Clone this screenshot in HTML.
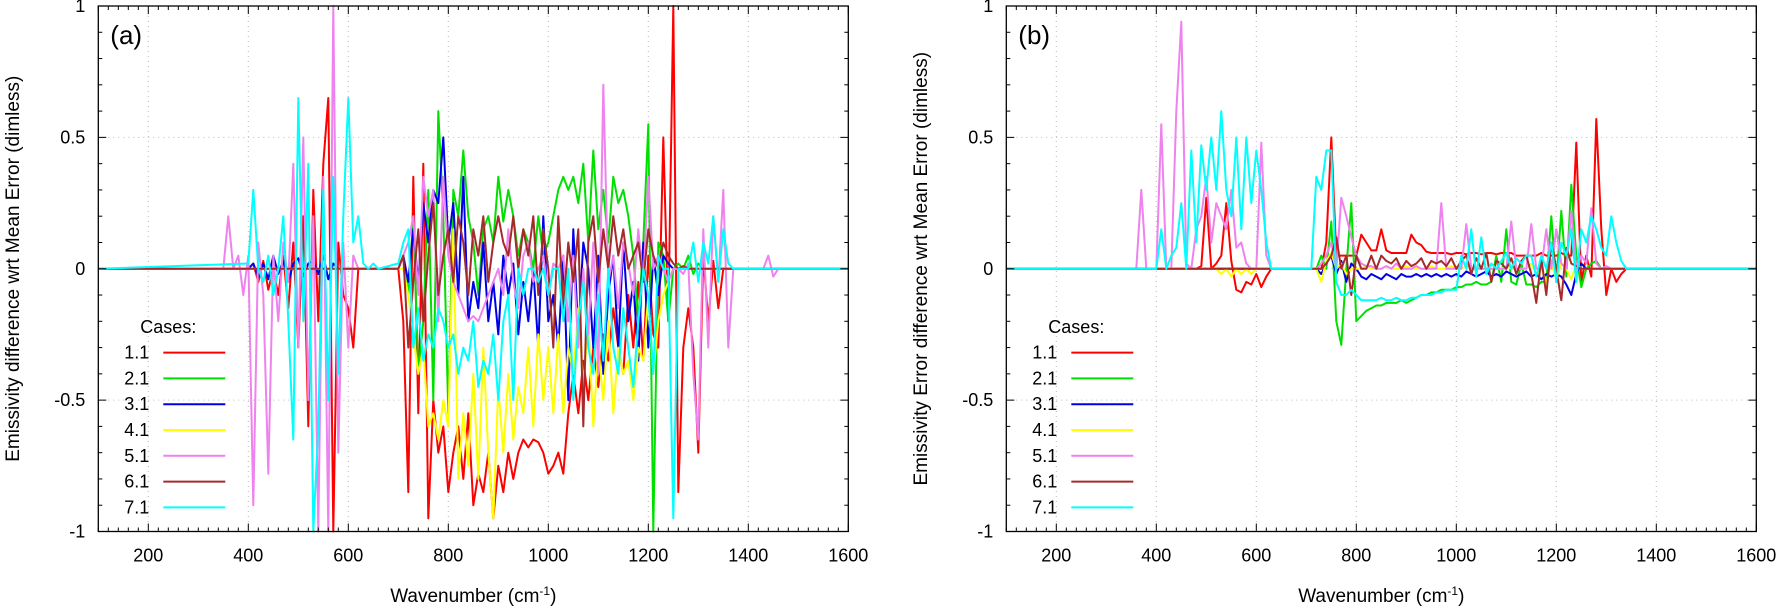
<!DOCTYPE html>
<html><head><meta charset="utf-8">
<style>
html,body{margin:0;padding:0;background:#fff;}
svg{display:block;font-family:"Liberation Sans","DejaVu Sans",sans-serif;}
</style></head>
<body>
<svg id="chart" width="1784" height="610" viewBox="0 0 1784 610" xmlns="http://www.w3.org/2000/svg"></svg>
<script>
// ---- data ----
const caseLabels = ["1.1","2.1","3.1","4.1","5.1","6.1","7.1"];
const caseColors = ["#ff0000","#00e000","#0000e8","#ffff00","#ee82ee","#a52a2a","#00ffff"];
const xTicks = [200,400,600,800,1000,1200,1400,1600];
const yTicks = [-1,-0.5,0,0.5,1];
const yTickLabels = ["-1","-0.5","0","0.5","1"];
const step = 10;
// each series: segments [startWavenumber, values every 10 cm-1]
const a_1_1 = [[400,[0,0.02,-0.05,0.03,-0.08,0,-0.1,0.05,-0.15,0.1,-0.3,0.2,-0.6,0.3,-0.2,0.4,0.65,-1,0.1,-0.1,-0.15,-0.3,0]],
 [700,[0,-0.2,-0.85,0.35,-0.55,0.4,-0.95,-0.5,-0.7,-0.6,-0.85,-0.7,-0.6,-0.8,-0.55,-0.9,-0.78,-0.85,-0.7,-0.95,-0.75,-0.85,-0.7,-0.8,-0.7,-0.65,-0.68,-0.65,-0.66,-0.7,-0.78,-0.75,-0.7,-0.78,-0.55,-0.4,-0.55,-0.35,-0.5,-0.3,-0.45,-0.25,-0.35,-0.15,-0.3,-0.4,-0.1,-0.3,-0.05,-0.35,0.05,-0.25,-0.3,0.5,-0.2,1,-0.85,-0.3,-0.15,-0.3,-0.7,0.05,-0.2,0.03,-0.15,0,0]]];
const a_2_1 = [[700,[0,0.05,-0.1,0.2,-0.4,-0.2,0.3,-0.5,0.6,0.2,-0.55,0.3,0.2,0.45,0.2,0.1,-0.1,0.15,0.2,0.1,0.35,0.18,0.3,0.2,0.05,0.15,0.1,0,0.2,0.05,0.1,0.2,0.3,0.35,0.3,0.35,0.25,0.4,0.1,0.45,0.15,0.3,0.1,0.35,0.25,0.3,0.2,0.05,-0.2,0.1,0.55,-1,0.1,0.05,-0.2,0,0.02,0,0.05,-0.02,0.02,0]]];
const a_3_1 = [[400,[0,0.02,-0.03,0.02,-0.04,0.05,-0.02,0.03,-0.05,0.02,0.04,-0.03,0.02,0.03,-0.02,0.05,-0.04,0.02,0]],
 [700,[0,0.05,-0.05,0.15,-0.05,0.25,0.1,0.3,0.25,0.5,0.1,0.25,-0.1,0.35,-0.2,-0.05,-0.15,0.1,-0.2,-0.05,-0.25,0.05,-0.1,0.02,-0.25,-0.05,-0.2,0,-0.3,0.2,-0.2,-0.1,-0.3,0.05,-0.5,0.15,-0.25,0.1,0,-0.3,0.05,-0.4,-0.1,0.05,-0.3,0.1,-0.2,-0.05,-0.35,0.1,-0.3,0.05,-0.1,0.05,0.02,0]]];
const a_4_1 = [[700,[0,0,-0.1,-0.25,-0.4,-0.3,-0.6,-0.55,-0.65,-0.5,-0.6,0.15,-0.8,-0.55,-0.75,-0.4,-0.8,-0.3,-0.7,-0.95,-0.45,-0.7,-0.4,-0.65,-0.45,-0.55,-0.3,-0.6,-0.25,-0.5,-0.3,-0.55,-0.25,-0.55,-0.3,-0.4,-0.15,-0.45,-0.2,-0.6,-0.3,-0.5,-0.2,-0.55,-0.3,-0.4,-0.35,-0.5,-0.3,-0.35,-0.1,-0.4,-0.2,-0.1,-0.05,0]]];
const a_5_1 = [[350,[0,0.2,0,0.05,-0.1,0.05,-0.9,0.1,-0.1,-0.78,0.05,-0.2,0.1,-0.05,0.4,-0.3,0.5,-0.5,0.2,-1,0.35,-1,1,-0.7,0.1,-0.3,0.05,0]],
 [700,[0,0.05,0.1,0.2,-0.1,0.35,0.2,0.3,-0.2,0.35,0.05,-0.05,-0.1,-0.15,-0.2,-0.18,-0.2,-0.15,-0.1,-0.05,0,-0.1,0.15,-0.05,-0.15,0.05,0.1,-0.05,0,0.05,-0.1,0.02,0,0.05,-0.2,0.05,-0.3,0,-0.25,0.1,-0.4,0.7,-0.05,0.05,-0.15,0.1,0.02,-0.1,0.15,-0.05,0.35,0,0.05,0,-0.05,0,0,-0.02,0.02,-0.4,-0.65,0.15,-0.3,0.2,-0.05,0.3,-0.3,0,0,0,0,0,0,0,0.05,-0.03,0]]];
const a_6_1 = [[700,[0,0.05,-0.3,-0.05,0.15,-0.2,0.05,0.25,-0.1,0.05,0.15,-0.05,0.2,0.1,-0.1,0.15,0.05,0.2,-0.05,0.1,0.2,0.1,0.05,0.2,0,0.15,0.05,0.2,-0.1,0.15,0,-0.3,0.2,-0.15,0.1,-0.05,0.15,-0.6,0.1,0.2,-0.05,0.15,0,0.2,0.05,0.15,0,0.05,0.1,-0.05,0.15,0.05,0,0.1,0.05,0.02,0,0.01,0]]];
const a_7_1 = [[400,[0.02,0.3,0,-0.05,0.05,-0.1,0,0.2,-0.2,-0.65,0.65,-0.2,0.4,-1,-0.6,0.3,-0.5,0.35,-0.4,0.2,0.65,0.1,0.2,0.02,0,0.02,0]],
 [700,[0.02,0.1,0.15,-0.3,-0.15,-0.35,-0.25,-0.3,-0.15,-0.2,-0.3,-0.25,-0.4,-0.3,-0.35,-0.2,-0.45,-0.35,-0.4,-0.25,-0.5,-0.2,-0.1,-0.5,0,-0.1,0,0,-0.05,0,-0.1,0,0,-0.2,0,-0.5,-0.2,-0.05,-0.3,-0.4,-0.1,-0.35,0,-0.3,-0.4,-0.15,-0.3,-0.45,-0.2,0,-0.1,-0.4,0.05,0,0,-0.95,0,0,0,0.1,-0.05,0.1,0.02,0.2,-0.05,0.15,0.02,0]]];

const b_1_1 = [[480,[0,0.01,0.27,0,0.02,0.05,0.25,0.03,-0.08,-0.09,-0.05,-0.06,-0.02,-0.07,-0.03,0]],
 [720,[0,0,0.1,0.5,0.05,0.05,0.05,0.05,0.05,0.13,
 0.1,0.07,0.07,0.15,0.07,0.06,0.06,0.06,0.06,0.13,
 0.1,0.09,0.065,0.06,0.06,0.06,0.06,0.055,0.06,0.06,
 0.055,0.06,0.06,0.055,0.06,0.06,0.055,0.06,0.06,0.06,
 0.05,0.05,0.05,0.05,0.05,0.06,0.05,0.05,0.05,0.06,
 0.05,0.05,0.48,-0.05,0.05,-0.03,0.57,0.15,-0.1,0,
 -0.05,-0.02,0,0]]];
const b_2_1 = [[720,[0,0.05,0,0.18,-0.2,-0.29,0,0.25,-0.2,-0.18,
 -0.16,-0.15,-0.14,-0.14,-0.13,-0.13,-0.13,-0.12,-0.13,-0.12,
 -0.11,-0.1,-0.1,-0.09,-0.09,-0.08,-0.08,-0.08,-0.07,-0.07,
 -0.06,-0.06,-0.05,-0.06,-0.06,-0.05,0.05,-0.05,0.15,-0.05,
 -0.06,0.02,-0.06,-0.06,-0.07,-0.05,-0.05,0.2,-0.05,0.22,
 -0.03,0.32,0.05,-0.07,0,0.02,0.03,0,0,0]]];
const b_3_1 = [[720,[0,-0.02,0.02,0.05,-0.02,0.03,-0.05,0.02,0,-0.03,
 -0.04,-0.02,-0.03,-0.04,-0.02,-0.03,-0.04,-0.02,-0.03,-0.03,
 -0.02,-0.03,-0.02,-0.03,-0.02,-0.03,-0.02,-0.03,-0.02,-0.03,
 -0.01,-0.02,-0.03,-0.02,-0.01,-0.03,-0.02,-0.03,-0.01,-0.02,
 -0.03,-0.02,-0.01,-0.03,-0.02,-0.04,-0.02,-0.03,-0.02,-0.03,
 -0.06,-0.1,-0.02,0.02,0]]];
const b_4_1 = [[520,[0,-0.02,0,-0.03,0,-0.02,0,-0.02,0,0,0]],
 [720,[0,-0.05,0.03,0.06,0,0.02,-0.02,0,0,0,
 0.01,0,0,0,0.01,0,0,0,0.01,0,
 0,0,0,0.01,0,0,0,0.01,0,0,
 0.01,0,0,0.01,0,0,0,0,0.01,0,
 0,0,0,0.02,-0.02,0,-0.05,0.02,-0.04,0.02,
 0,-0.04,0.02,0,0]]];
const b_5_1 = [[360,[0,0.3,0,0,0,0.55,0,0,0.6,0.94,0.02,0,0.15,0.2,0.35,0.1,0.25,0.2,0.15,0.3,0.08,0.1,0.02,0,0,0.48,0.05,0]],
 [720,[0,0.02,0.05,0.1,0,0.27,0.2,0.12,0.05,0.02,
 0.01,0.01,0,0,0.01,0,0.02,0,0,0,
 0.01,0,0,0,0,0.25,0,0,0,0,
 0.17,0,0,0,0,0,0,0,0,0.18,
 0,0,0,0.17,0,0,0.15,0,0.15,0.02,
 0,0.22,0,0.05,0.02,0.23,0.02,0,0.01,0]]];
const b_6_1 = [[720,[0,0,0.02,0.05,0.12,0,0.05,-0.1,0.05,0,
 0,0.05,0,0.05,0.03,0.02,0.04,0,0.03,0.01,
 0.02,0.04,0,0.03,0.02,0.03,0.01,0.04,0,0.03,
 0.05,-0.02,0.04,0,0.06,-0.05,0.03,0.02,0,0.04,
 -0.02,0.03,0.05,-0.02,-0.13,0.04,-0.1,0.1,0,-0.12,
 0.08,0.02,0.01,0,0]]];
const b_7_1 = [[400,[0,0.15,0,0.05,0.08,0.25,0,0.45,0.1,0.47,0.3,0.5,0.3,0.6,0.3,0.2,0.5,0.15,0.5,0.25,0.45,0.3,0.1,0]],
 [700,[0,0,0.35,0.3,0.45,0.45,-0.05,-0.1,-0.1,-0.08,
 -0.1,-0.12,-0.12,-0.12,-0.12,-0.11,-0.12,-0.12,-0.11,-0.12,
 -0.12,-0.11,-0.11,-0.1,-0.1,-0.1,-0.09,-0.09,-0.08,-0.08,
 -0.08,0.05,0,0.15,-0.03,0.12,-0.02,0.02,0,0.03,
 0.06,0,0.04,0.02,0.05,0.05,-0.03,0.05,0,0.1,
 -0.05,0.1,0.05,0.15,-0.05,0.15,0.1,0.2,0.15,0.08,
 0.05,0.2,0.1,0.03,0,0]]];

const seriesA = [a_1_1,a_2_1,a_3_1,a_4_1,a_5_1,a_6_1,a_7_1];
const seriesB = [b_1_1,b_2_1,b_3_1,b_4_1,b_5_1,b_6_1,b_7_1];

// ---- drawing ----
const NS = "http://www.w3.org/2000/svg";
const svg = document.getElementById("chart");
function mk(tag, attrs, parent){const e=document.createElementNS(NS,tag);for(const k in attrs)e.setAttribute(k,attrs[k]);(parent||svg).appendChild(e);return e;}

const panels = [
 {left:98.3,right:848.3,top:6,bottom:531.5,tag:"(a)",ylabel:"Emissivity difference wrt Mean Error (dimless)",ylx:13,data:seriesA,name:"panel-a"},
 {left:1006.3,right:1756.3,top:6,bottom:531.5,tag:"(b)",ylabel:"Emissivity Error difference wrt Mean Error (dimless)",ylx:921,data:seriesB,name:"panel-b"}
];

panels.forEach(p=>{
 const g = mk("g",{});
 
 
 const xs = v => p.left + (v-100)/1500*(p.right-p.left);
 const ys = v => p.bottom - (v+1)/2*(p.bottom-p.top);
 xTicks.forEach(t=>{ if(t<1600){const l=mk("line",{x1:xs(t),x2:xs(t),y1:p.top,y2:p.bottom,stroke:"#bbb","stroke-width":1,"stroke-dasharray":"1,4"},g);
  
  }});
 [-0.5,0,0.5].forEach(t=>{const l=mk("line",{x1:p.left,x2:p.right,y1:ys(t),y2:ys(t),stroke:"#bbb","stroke-width":1,"stroke-dasharray":"1,4"},g);
  
  });
 p.data.forEach((segs,i)=>{
  const pts=[[100,0]];
  segs.forEach(s=>{ s[1].forEach((v,j)=>pts.push([s[0]+j*step,v])); });
  pts.push([1600,0]);
  pts.sort((a,b)=>a[0]-b[0]);
  const d = pts.map((q,k)=>(k?"L":"M")+xs(q[0]).toFixed(1)+","+ys(Math.max(-1,Math.min(1,q[1]))).toFixed(1)).join("");
  const path = mk("path",{d:d,fill:"none",stroke:caseColors[i],"stroke-width":2,"stroke-linejoin":"round"},g);
  
  
 });
 for(let t=100;t<=1600;t+=20){const maj=(t%200===0);const len=maj?8:4;
  mk("line",{x1:xs(t),x2:xs(t),y1:p.bottom,y2:p.bottom-len,stroke:"#000","stroke-width":1},g);
  mk("line",{x1:xs(t),x2:xs(t),y1:p.top,y2:p.top+len,stroke:"#000","stroke-width":1},g);}
 for(let k=-10;k<=10;k++){const v=k/10;const maj=(k%5===0);const len=maj?8:4;
  mk("line",{x1:p.left,x2:p.left+len,y1:ys(v),y2:ys(v),stroke:"#000","stroke-width":1},g);
  mk("line",{x1:p.right,x2:p.right-len,y1:ys(v),y2:ys(v),stroke:"#000","stroke-width":1},g);}
 const frame = mk("rect",{x:p.left,y:p.top,width:p.right-p.left,height:p.bottom-p.top,fill:"none",stroke:"#000","stroke-width":1.3},g);
 
 
 xTicks.forEach(t=>{const tx=mk("text",{x:xs(t),y:p.bottom+30,"text-anchor":"middle","font-size":18},g);tx.textContent=t;
  
  });
 yTicks.forEach((t,i)=>{const tx=mk("text",{x:p.left-13,y:ys(t)+6,"text-anchor":"end","font-size":18},g);tx.textContent=yTickLabels[i];
  
  });
 const xl=mk("text",{x:(p.left+p.right)/2,y:602,"text-anchor":"middle","font-size":19},g);
 xl.innerHTML='Wavenumber (cm<tspan dy="-7" font-size="12">-1</tspan><tspan dy="7">)</tspan>';
 
 
 const yl=mk("text",{x:0,y:0,"text-anchor":"middle","font-size":19,transform:`translate(${p.ylx+6},${(p.top+p.bottom)/2}) rotate(-90)`},g);
 yl.textContent=p.ylabel;
 
 
 const pt=mk("text",{x:p.left+12,y:44,"font-size":26},g);pt.textContent=p.tag;
 
 
 const lg=mk("g",{},g);
 
 
 const lt=mk("text",{x:p.left+42,y:333,"font-size":18},lg);lt.textContent="Cases:";
 
 
 caseLabels.forEach((c,i)=>{
  const yy=352.6+i*25.8;
  const t=mk("text",{x:p.left+51,y:yy+6,"text-anchor":"end","font-size":18},lg);t.textContent=c;
  
  
  const l=mk("line",{x1:p.left+65,x2:p.left+127,y1:yy,y2:yy,stroke:caseColors[i],"stroke-width":2},lg);
  
  
 });
});
</script>
</body></html>
